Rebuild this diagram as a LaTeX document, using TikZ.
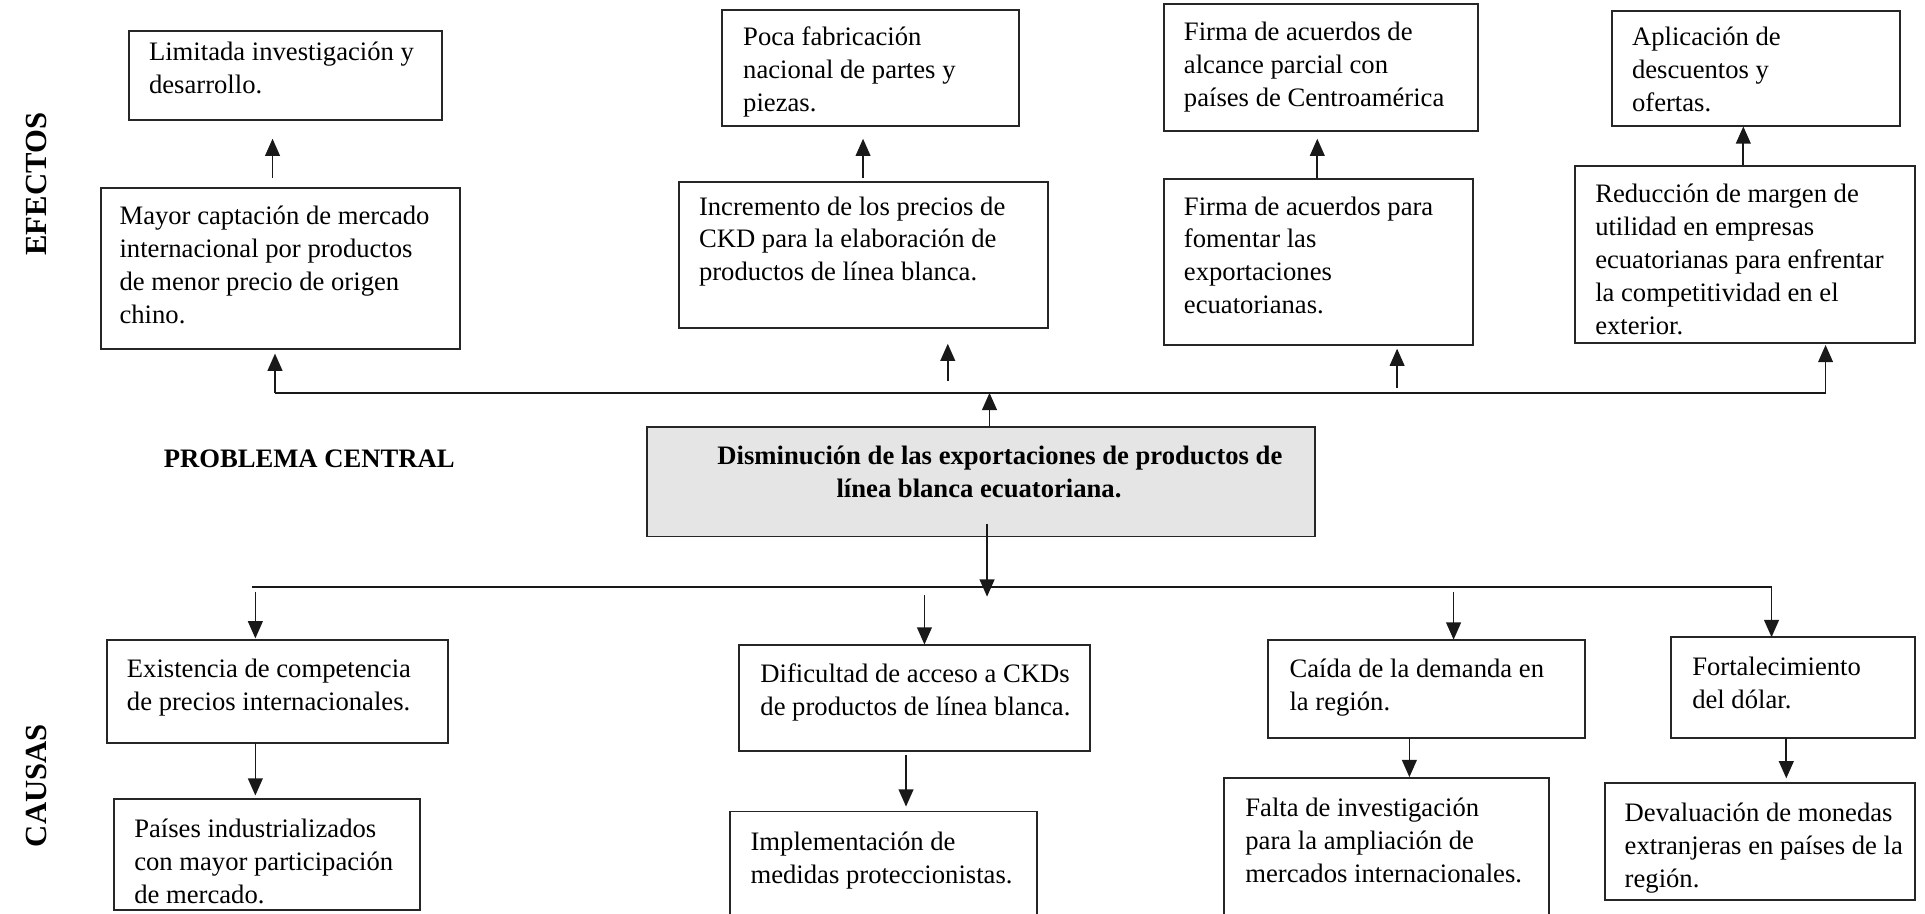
\documentclass[tikz,border=0pt]{standalone}
\usepackage{fontspec}
\setmainfont{Liberation Serif}
\usetikzlibrary{arrows.meta,fit}
\begin{document}
\begin{tikzpicture}[x=0.5pt,y=-0.5pt,
  boxsty/.style={draw=black!85, line width=0.8pt, inner sep=0pt},
  txt/.style={anchor=north west, inner sep=0pt, align=left, font=\fontsize{10.85}{13.4}\selectfont},
  btxt/.style={anchor=north west, inner sep=0pt, align=left, font=\fontsize{10.85}{13.4}\selectfont\bfseries},
  side/.style={rotate=90, inner sep=0pt, font=\fontsize{12.5}{15}\selectfont\bfseries},
  arr/.style={-{Triangle[length=7pt,width=6pt]}, line width=0.7pt, draw=black!90},
  ln/.style={line width=0.7pt, draw=black!90}]
\clip (0,0) rectangle (1568,743.7);
\fill[white] (0,0) rectangle (1568,743.7);

% side labels
\node[side] (efectos) at (30,150) {EFECTOS};
\node[side] (causas) at (30,640) {CAUSAS};
\node[btxt, anchor=west] (pc) at (133,374) {PROBLEMA CENTRAL};

% ---- effects: top row
\node[boxsty, fit={(105,25) (360,98)}] (l1) {};
\node[txt] (l1t) at (121,30) {\strut Limitada investigación y\\desarrollo.};
\node[boxsty, fit={(588,8) (830,103)}] (m1) {};
\node[txt] (m1t) at (605,18) {\strut Poca fabricación\\nacional de partes y\\piezas.};
\node[boxsty, fit={(948,3) (1204,107)}] (r1) {};
\node[txt] (r1t) at (964,14) {\strut Firma de acuerdos de\\alcance parcial con\\países de Centroamérica};
\node[boxsty, fit={(1313,9) (1548,103)}] (f1) {};
\node[txt] (f1t) at (1329,18) {\strut Aplicación de\\descuentos y\\ofertas.};

% ---- effects: second row
\node[boxsty, fit={(82,153) (375,284)}] (l2) {};
\node[txt] (l2t) at (97,164) {\strut Mayor captación de mercado\\internacional por productos\\de menor precio de origen\\chino.};
\node[boxsty, fit={(553,148) (854,267)}] (m2) {};
\node[txt] (m2t) at (569,156) {\strut Incremento de los precios de\\CKD para la elaboración de\\productos de línea blanca.};
\node[boxsty, fit={(948,146) (1200,281)}] (r2) {};
\node[txt] (r2t) at (964,156) {\strut Firma de acuerdos para\\fomentar las\\exportaciones\\ecuatorianas.};
\node[boxsty, fit={(1283,135) (1560,279)}] (f2) {};
\node[txt] (f2t) at (1299,146) {\strut Reducción de margen de\\utilidad en empresas\\ecuatorianas para enfrentar\\la competitividad en el\\exterior.};

% ---- central problem
\node[boxsty, fill=black!10, fit={(527,348) (1071,437)}] (c) {};
\node[btxt] (ct) at (584,359) {\strut Disminución de las exportaciones de productos de\\\hspace*{48.5pt}línea blanca ecuatoriana.};

% ---- causes: first row
\node[boxsty, fit={(87,521) (365,605)}] (b1) {};
\node[txt] (b1t) at (103,533) {\strut Existencia de competencia\\de precios internacionales.};
\node[boxsty, fit={(602,525) (888,612)}] (b3) {};
\node[txt] (b3t) at (619,537) {\strut Dificultad de acceso a CKDs\\de productos de línea blanca.};
\node[boxsty, fit={(1033,521) (1291,601)}] (b5) {};
\node[txt] (b5t) at (1050,533) {\strut Caída de la demanda en\\la región.};
\node[boxsty, fit={(1361,519) (1560,601)}] (b7) {};
\node[txt] (b7t) at (1378,531) {\strut Fortalecimiento\\del dólar.};

% ---- causes: second row
\node[boxsty, fit={(93,651) (342,741)}] (b2) {};
\node[txt] (b2t) at (109,663) {\strut Países industrializados\\con mayor participación\\de mercado.};
\node[boxsty, fit={(595,661) (845,760)}] (b4) {};
\node[txt] (b4t) at (611,674) {\strut Implementación de\\medidas proteccionistas.};
\node[boxsty, fit={(997,634) (1262,760)}] (b6) {};
\node[txt] (b6t) at (1014,646) {\strut Falta de investigación\\para la ampliación de\\mercados internacionales.};
\node[boxsty, fit={(1307,638) (1560,733)}] (b8) {};
\node[txt] (b8t) at (1323,650) {\strut Devaluación de monedas\\extranjeras en países de la\\región.};

% ---- connector points (effects)
\coordinate (e1s) at (222,145);  \coordinate (e1e) at (222,113);
\coordinate (e2s) at (703,145);  \coordinate (e2e) at (703,113);
\coordinate (e3s) at (1073,145); \coordinate (e3e) at (1073,113);
\coordinate (e4s) at (1420,134); \coordinate (e4e) at (1420,103);
\coordinate (tl) at (224,320);   \coordinate (tlE) at (224,288);
\coordinate (tr) at (1487,320);  \coordinate (trE) at (1487,281);
\coordinate (m2s) at (772,310);  \coordinate (m2e) at (772,280);
\coordinate (r2s) at (1138,316); \coordinate (r2e) at (1138,284);
\coordinate (cup) at (806,320);

\draw[arr] (e1s) -- (e1e);
\draw[arr] (e2s) -- (e2e);
\draw[arr] (e3s) -- (e3e);
\draw[arr] (e4s) -- (e4e);
\draw[ln] (tl) -- (tr);
\draw[arr] (tl) -- (tlE);
\draw[arr] (tr) -- (trE);
\draw[arr] (m2s) -- (m2e);
\draw[arr] (r2s) -- (r2e);
\draw[arr] (c.north -| cup) -- (cup);

% ---- connector points (causes)
\coordinate (cdS) at (804,427);  \coordinate (cdE) at (804,486);
\coordinate (bl) at (205,478);   \coordinate (br) at (1443,478);
\coordinate (k1s) at (208,482);  \coordinate (k1e) at (208,520);
\coordinate (k3s) at (753,485);  \coordinate (k3e) at (753,525);
\coordinate (k5s) at (1184,482); \coordinate (k5e) at (1184,521);
\coordinate (k7e) at (1443,519);
\coordinate (j1s) at (208,605);  \coordinate (j1e) at (208,648);
\coordinate (j3s) at (738,615);  \coordinate (j3e) at (738,657);
\coordinate (j5s) at (1148,601); \coordinate (j5e) at (1148,633);
\coordinate (j7s) at (1455,601); \coordinate (j7e) at (1455,634);

\draw[arr] (cdS) -- (cdE);
\draw[ln] (bl) -- (br);
\draw[arr] (br) -- (k7e);
\draw[arr] (k1s) -- (k1e);
\draw[arr] (k3s) -- (k3e);
\draw[arr] (k5s) -- (k5e);
\draw[arr] (j1s) -- (j1e);
\draw[arr] (j3s) -- (j3e);
\draw[arr] (j5s) -- (j5e);
\draw[arr] (j7s) -- (j7e);
\end{tikzpicture}
\end{document}
